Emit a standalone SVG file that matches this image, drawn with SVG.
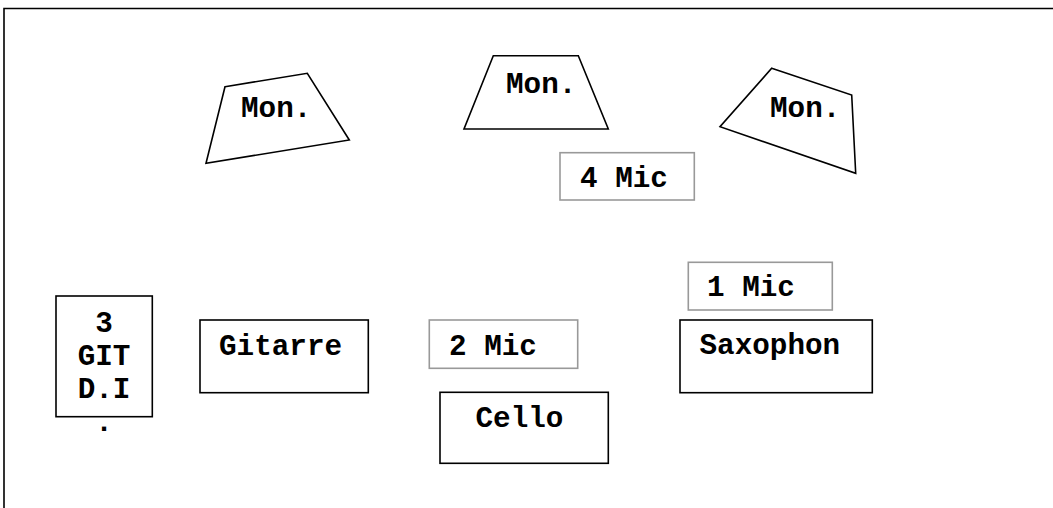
<svg xmlns="http://www.w3.org/2000/svg" width="1053" height="508" viewBox="0 0 1053 508">
<style>
.t{font-family:"Courier New","Nimbus Mono PS","FreeMono","Liberation Mono",monospace;font-weight:bold;font-size:29.3px;fill:#000}
.box{fill:#fff;stroke:#000;stroke-width:1.6}
.mic{fill:#fff;stroke:#999;stroke-width:1.6}
.frame{fill:none;stroke:#000;stroke-width:1.6}
</style>
<rect width="1053" height="508" fill="#fff"/>
<path class="frame" d="M4,510 V8.5 H1060"/>
<g id="mon1"><polygon class="box" points="225,86.7 307.3,73.3 349.3,140 206,163.3"/><text class="t" x="241" y="117">Mon.</text></g>
<g id="mon2"><polygon class="box" points="493.3,55.7 578.3,55.7 608.3,129 464,129"/><text class="t" x="506" y="92.5">Mon.</text></g>
<g id="mon3"><polygon class="box" points="771.7,68.3 851.7,95 855.7,173.3 720,126.7"/><text class="t" x="770" y="117">Mon.</text></g>
<g id="mic4"><rect class="mic" x="560" y="152.7" width="134.3" height="47.3"/><text class="t" x="580" y="186.5">4 Mic</text></g>
<g id="git-di"><rect class="box" x="56" y="296" width="96.3" height="120.7"/><text class="t" text-anchor="middle"><tspan x="104" y="331.5">3</tspan><tspan x="104" y="365">GIT</tspan><tspan x="104" y="397.5">D.I</tspan><tspan x="104" y="431">.</tspan></text></g>
<g id="gitarre"><rect class="box" x="200" y="320" width="168.3" height="72.7"/><text class="t" x="219" y="355">Gitarre</text></g>
<g id="mic2"><rect class="mic" x="429.3" y="320" width="148.4" height="48.3"/><text class="t" x="449" y="355">2 Mic</text></g>
<g id="cello"><rect class="box" x="440" y="392.3" width="168.3" height="71"/><text class="t" x="475.5" y="426.5">Cello</text></g>
<g id="mic1"><rect class="mic" x="688.3" y="262.3" width="144" height="47.7"/><text class="t" x="707" y="295.5">1 Mic</text></g>
<g id="saxophon"><rect class="box" x="680" y="320" width="192.3" height="72.7"/><text class="t" x="699.5" y="354">Saxophon</text></g>
<g id="connectors"></g>
</svg>
